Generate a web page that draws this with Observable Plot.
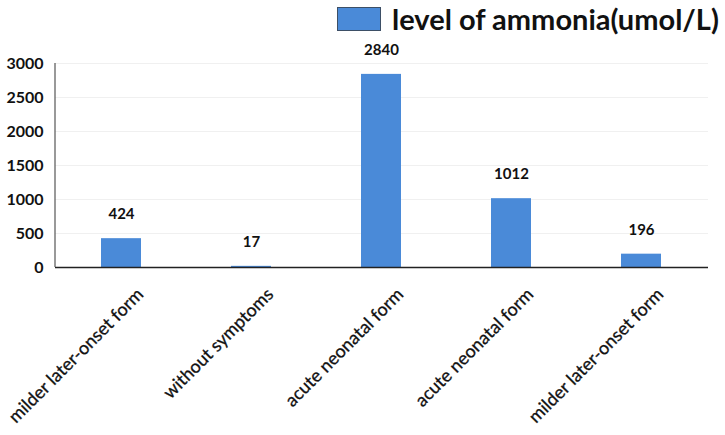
<!DOCTYPE html>
<html>
<head>
<meta charset="utf-8">
<script src="https://cdn.jsdelivr.net/npm/d3@7"></script>
<script src="https://cdn.jsdelivr.net/npm/@observablehq/plot@0.6"></script>
<style>
  html, body { margin: 0; padding: 0; background: #fff; }
  #wrap { position: relative; width: 725px; height: 435px; overflow: hidden; }
  #legend { position: absolute; left: 337px; top: 1px; display: flex; align-items: center;
            font-family: Lato, "Open Sans", sans-serif; font-weight: bold; font-size: 29px; color: #111; }
  #legend .sw { width: 44px; height: 24px; background: #4a8ad8; border: 1.5px solid #3d4f66; margin-right: 11px; box-sizing: border-box; }
</style>
</head>
<body>
<div id="wrap">
  <div id="legend"><span class="sw"></span><span id="legtext"></span></div>
</div>
<script>
const categories = ["milder later-onset form", "without symptoms", "acute neonatal form", "acute neonatal form ", "milder later-onset form "];
const values = [424, 17, 2840, 1012, 196];
const yTicks = [0, 500, 1000, 1500, 2000, 2500, 3000];
const seriesName = "level of ammonia(umol/L)";

document.getElementById("legtext").textContent = seriesName;
const data = categories.map((c, i) => ({category: c, value: values[i]}));
const barColor = "#4a8ad8";
const font = "Lato, 'Open Sans', sans-serif";

const yAxisLine = (index, scales, values, dims) => {
  const g = d3.create("svg:line")
    .attr("x1", dims.marginLeft).attr("x2", dims.marginLeft)
    .attr("y1", dims.marginTop).attr("y2", dims.height - dims.marginBottom)
    .attr("stroke", "#555").attr("stroke-width", 1.2);
  return g.node();
};

const chart = Plot.plot({
  width: 725,
  height: 435,
  marginLeft: 55,
  marginRight: 17,
  marginTop: 63,
  marginBottom: 168,
  style: {background: "transparent", color: "#111"},
  x: {domain: categories, paddingInner: 0.69, paddingOuter: 0.345, axis: null},
  y: {domain: [0, 3000], ticks: yTicks, axis: null},
  marks: [
    Plot.gridY(yTicks.filter(d => d > 0), {stroke: "#f0f0f0", strokeOpacity: 1, strokeWidth: 1}),
    Plot.barY(data, {x: "category", y: "value", fill: barColor}),
    Plot.ruleY([0], {stroke: "#222", strokeWidth: 1.5}),
    yAxisLine,
    Plot.axisY({ticks: yTicks, tickSize: 0, tickPadding: 12, tickFormat: d => String(d), fontSize: 16, fontWeight: "bold", fontFamily: font, label: null}),
    Plot.text(data, {x: "category", y: "value", text: d => String(d.value), dy: -24, fontSize: 15, fontWeight: "bold", fontFamily: font, fill: "#111"}),
    Plot.text(data, {x: "category", y: () => 0, text: d => d.category.trim(), rotate: -45, textAnchor: "end", lineAnchor: "middle", dx: 19, dy: 24, fontSize: 18, fontFamily: font, fill: "#111", stroke: "#111", strokeWidth: 0.3})
  ]
});
document.getElementById("wrap").prepend(chart);
</script>
</body>
</html>
